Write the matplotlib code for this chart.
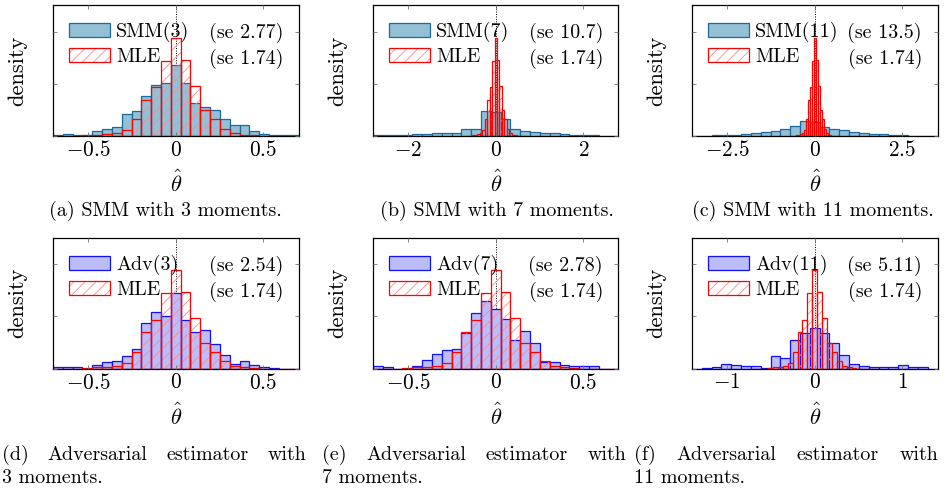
import numpy as np
import matplotlib
matplotlib.use("Agg")
import matplotlib.pyplot as plt
from matplotlib.patches import Patch
from matplotlib.legend_handler import HandlerTuple

plt.rcParams["font.family"] = "cmr10"
plt.rcParams["mathtext.fontset"] = "cm"
plt.rcParams["axes.formatter.use_mathtext"] = True
plt.rcParams["hatch.linewidth"] = 0.6
FS = 14.4        # legend / caption text
FS_TICK = 15.3
FS_LAB = 16.2

# --- histogram densities, 25 equal bins across each panel's x-range ---
# MLE is the same sample in every panel, binned on [-0.7, 0.7]
mle = [0, 0, 0, 0.02, 0.04, 0.07, 0.11, 0.22, 0.65, 1.38, 1.87, 2.88, 3.76,
       2.92, 1.92, 0.99, 0.65, 0.28, 0.10, 0.05, 0.02, 0, 0, 0, 0]
smm3 = [0.02, 0.09, 0.03, 0.02, 0.21, 0.27, 0.34, 0.83, 0.96, 1.54, 1.96, 2.04, 2.73,
        2.04, 1.27, 1.12, 1.00, 0.67, 0.42, 0.42, 0.20, 0.08, 0.03, 0.03, 0.02]
smm7 = [0.04, 0.03, 0.03, 0.04, 0.07, 0.07, 0.11, 0.13, 0.13, 0.27, 0.27, 0.96, 0.92,
        0.64, 0.27, 0.21, 0.16, 0.13, 0.10, 0.06, 0.04, 0.03, 0.02, 0.01, 0.01]
smm11 = [0.01, 0.01, 0.02, 0.03, 0.04, 0.08, 0.12, 0.15, 0.18, 0.28, 0.40, 0.58, 0.54,
         0.35, 0.28, 0.22, 0.15, 0.12, 0.09, 0.07, 0.03, 0.02, 0.01, 0.01, 0.01]
adv3 = [0.04, 0.04, 0.04, 0, 0.12, 0.24, 0.28, 0.46, 0.76, 1.74, 2.15, 2.00, 2.90,
        1.87, 1.38, 1.49, 0.95, 0.53, 0.18, 0.27, 0.12, 0.07, 0.03, 0, 0]
adv7 = [0.09, 0.04, 0, 0, 0.09, 0.33, 0.57, 0.69, 0.74, 1.37, 2.14, 2.58, 2.27,
        1.91, 1.10, 1.45, 0.99, 0.24, 0.24, 0.12, 0.09, 0.09, 0.09, 0, 0]
adv11 = [0, 0.01, 0.04, 0.19, 0.12, 0.10, 0.08, 0.03, 0.46, 0.41, 1.09, 1.35, 1.54,
         1.35, 0.99, 0.51, 0.19, 0.09, 0.05, 0.05, 0.07, 0.15, 0.05, 0.04, 0]

est_names = ["SMM(3)", "SMM(7)", "SMM(11)", "Adv(3)", "Adv(7)", "Adv(11)"]
est_se = ["2.77", "10.7", "13.5", "2.54", "2.78", "5.11"]
mle_se = "1.74"
half_range = [0.7, 2.8, 3.5, 0.7, 0.7, 1.4]
xticks = [[-0.5, 0, 0.5], [-2, 0, 2], [-2.5, 0, 2.5],
          [-0.5, 0, 0.5], [-0.5, 0, 0.5], [-1, 0, 1]]
captions_top = ["(a) SMM with 3 moments.", "(b) SMM with 7 moments.",
                "(c) SMM with 11 moments."]
captions_bot = [("(d) Adversarial estimator with", "3 moments."),
                ("(e) Adversarial estimator with", "7 moments."),
                ("(f) Adversarial estimator with", "11 moments.")]
est_data = [smm3, smm7, smm11, adv3, adv7, adv11]

SMM_FC, SMM_EC = "#94c0d6", "#1a6aa0"
ADV_FC, ADV_EC = "#bcbcf6", "#1010ff"
MLE_EC, MLE_HATCH = "#ff0000", "#ff8a8a"

W, H = 949, 493
fig = plt.figure(figsize=(W / 100, H / 100), dpi=100)

lefts = [53, 373, 692]
tops = [5.5, 238]
ax_w, ax_h = 245.5, 130.5

for i in range(6):
    r, c = divmod(i, 3)
    ax = fig.add_axes([lefts[c] / W, 1 - (tops[r] + ax_h) / H, ax_w / W, ax_h / H])
    lim = half_range[i]
    fc, ec = (SMM_FC, SMM_EC) if r == 0 else (ADV_FC, ADV_EC)

    ax.axvline(0, color="black", lw=0.7, ls=(0, (1, 1.5)), zorder=1.2)

    edges = np.linspace(-lim, lim, 26)
    ax.bar(edges[:-1], est_data[i], width=np.diff(edges), align="edge",
           facecolor=fc, edgecolor=ec, lw=0.9, zorder=1.5)
    medges = np.linspace(-0.7, 0.7, 26)
    ax.bar(medges[:-1], mle, width=np.diff(medges), align="edge",
           facecolor="none", edgecolor=MLE_HATCH, lw=0, hatch="///", zorder=1.6)
    ax.bar(medges[:-1], mle, width=np.diff(medges), align="edge",
           facecolor="none", edgecolor=MLE_EC, lw=0.9, zorder=1.7)

    ax.set_xlim(-lim, lim)
    ax.set_ylim(0, 5)
    ax.set_xticks(xticks[i])
    ax.set_xticklabels([f"${t:g}$" for t in xticks[i]], fontsize=FS_TICK)
    ax.set_yticks([0, 2, 4])
    ax.set_yticklabels([])
    ax.tick_params(direction="in", length=3, width=0.6, color="0.45",
                   top=True, right=True, pad=3)
    ax.set_axisbelow(False)
    for s in ax.spines.values():
        s.set_linewidth(0.9)

    ax.set_xlabel(r"$\hat{\theta}$", fontsize=FS_LAB, va="center")
    ax.xaxis.set_label_coords(0.5, -0.36)
    ax.set_ylabel("density", fontsize=FS_LAB, va="center")
    ax.yaxis.set_label_coords(-0.145, 0.5)

    h_est = Patch(facecolor=fc, edgecolor=ec, lw=0.9)
    h_mle = (Patch(facecolor="none", edgecolor=MLE_HATCH, lw=0, hatch="///"),
             Patch(facecolor="none", edgecolor=MLE_EC, lw=0.9))
    ax.legend([h_est, h_mle], [est_names[i], "MLE"], loc="upper left",
              bbox_to_anchor=(0.065, 0.873), frameon=False, fontsize=FS,
              handlelength=2.05, handleheight=0.7, handletextpad=0.3,
              labelspacing=0.3, borderpad=0, borderaxespad=0,
              handler_map={tuple: HandlerTuple(ndivide=1)})
    ax.text(0.937, 0.788, f"(se {est_se[i]})", transform=ax.transAxes,
            ha="right", va="center", fontsize=FS)
    ax.text(0.937, 0.588, f"(se {mle_se})", transform=ax.transAxes,
            ha="right", va="center", fontsize=FS)

for c, x in enumerate([165, 497, 813]):
    fig.text(x / W, 1 - 211 / H, captions_top[c], ha="center", va="center", fontsize=FS)

# bottom captions: first line is justified over the column width
renderer = fig.canvas.get_renderer()
line_w = 304
for c, x in enumerate([2, 322, 634]):
    words = captions_bot[c][0].split()
    texts = [fig.text(0, 1 - 455 / H, w, ha="left", va="center", fontsize=FS) for w in words]
    widths = [t.get_window_extent(renderer).width for t in texts]
    gap = (line_w - sum(widths)) / (len(words) - 1)
    pos = x
    for t, wd in zip(texts, widths):
        t.set_x(pos / W)
        pos += wd + gap
    fig.text(x / W, 1 - 478 / H, captions_bot[c][1], ha="left", va="center", fontsize=FS)

fig.savefig("out.png", dpi=100)
